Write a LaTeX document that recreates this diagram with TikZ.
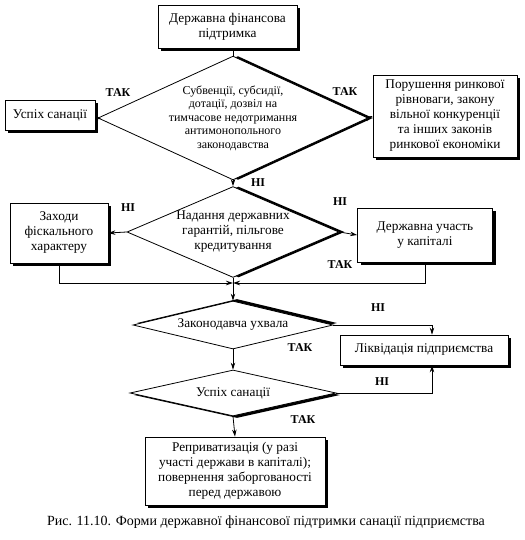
\documentclass[tikz,border=0pt]{standalone}
\usepackage{fontspec}
\setmainfont{Liberation Serif}
\usetikzlibrary{shapes.geometric,arrows.meta,shadows}
\begin{document}
\begin{tikzpicture}[x=1pt,y=1pt,
  every node/.style={font=\fontsize{13.3}{15}\selectfont},
  box/.style={draw,fill=white,line width=0.8pt,align=center,inner sep=2pt,
    drop shadow={shadow xshift=3pt,shadow yshift=-3pt,fill=black,opacity=1}},
  dia/.style={draw,fill=white,diamond,line width=0.8pt,align=center,inner sep=0pt},
  dsh/.style 2 args={drop shadow={shadow xshift=#1,shadow yshift=#2,fill=black,opacity=1}},
  lab/.style={font=\fontsize{12}{14}\selectfont\bfseries},
  arr/.style={-{Stealth[length=7pt,width=4.5pt]},line width=0.8pt},
  ln/.style={line width=0.8pt}]
\useasboundingbox (0,0) rectangle (524,-540);
% boxes
\node[box,minimum width=139,minimum height=43] (top) at (227.5,-27) {Державна фінансова\\підтримка};
\node[box,minimum width=90,minimum height=30] (succ1) at (50,-115) {Успіх санації};
\node[box,minimum width=144,minimum height=82] (viol) at (445,-116) {Порушення ринкової\\рівноваги, закону\\вільної конкуренції\\та інших законів\\ринкової економіки};
\node[box,minimum width=98,minimum height=60] (fisc) at (59,-233) {Заходи\\фіскального\\характеру};
\node[box,minimum width=135,minimum height=54] (part) at (425,-235) {Державна участь\\у капіталі};
\node[box,minimum width=168,minimum height=30] (liq) at (424,-350) {Ліквідація підприємства};
\node[box,minimum width=180,minimum height=68] (repr) at (235,-471) {Реприватизація (у разі\\участі держави в капіталі);\\повернення заборгованості\\перед державою};
% diamonds
\node[dia,dsh={5pt}{0pt},aspect=2.18,minimum width=262,minimum height=120,font=\fontsize{12}{13.5}\selectfont] (d1) at (233,-118) {Субвенції, субсидії,\\дотації, дозвіл на\\тимчасове недотримання\\антимонопольного\\законодавства};
\node[dia,dsh={5.5pt}{0pt},aspect=2.3,minimum width=212,minimum height=88] (d2) at (233,-232) {Надання державних\\гарантій, пільгове\\кредитування};
\node[dia,dsh={4pt}{2pt},aspect=4.2,minimum width=200,minimum height=48] (d3) at (233,-325) {Законодавча ухвала};
\node[dia,dsh={4pt}{-2pt},aspect=4.4,minimum width=206,minimum height=46] (d4) at (233,-393) {Успіх санації};
\coordinate (m) at (233,-283);
% connectors
\draw[ln] (top.south -| d1.north) -- (d1.north);
\draw[arr] (d1.west) -- (succ1.east);
\draw[arr] (d1.east) -- (viol.west);
\draw[arr] (d1.south) -- (d2.north);
\draw[arr] (d2.west) -- (fisc.east);
\draw[arr] (d2.east) -- (part.west);
\draw[ln] (d2.south) -- (m);
\draw[arr] (fisc.south) |- (m);
\draw[arr] (part.south) |- (m);
\draw[arr] (m) -- (d3.north);
\draw[arr] (d3.east) -| ([xshift=8pt]liq.north);
\draw[arr] (d3.south) -- (d4.north);
\draw[arr] (d4.east) -| ([xshift=8pt]liq.south);
\draw[arr] (d4.south) -- (repr.north);
% labels
\node[lab] (l1) at (118,-93) {ТАК};
\node[lab] (l2) at (345,-92) {ТАК};
\node[lab] (l3) at (258,-183) {НІ};
\node[lab] (l4) at (128,-208) {НІ};
\node[lab] (l5) at (340,-202) {НІ};
\node[lab] (l6) at (340,-265) {ТАК};
\node[lab] (l7) at (378,-308) {НІ};
\node[lab] (l8) at (300,-348) {ТАК};
\node[lab] (l9) at (382,-382) {НІ};
\node[lab] (l10) at (303,-420) {ТАК};
\node[font=\fontsize{14}{16}\selectfont] (cap) at (266,-522) {Рис. 11.10. Форми державної фінансової підтримки санації підприємства};
\end{tikzpicture}
\end{document}
